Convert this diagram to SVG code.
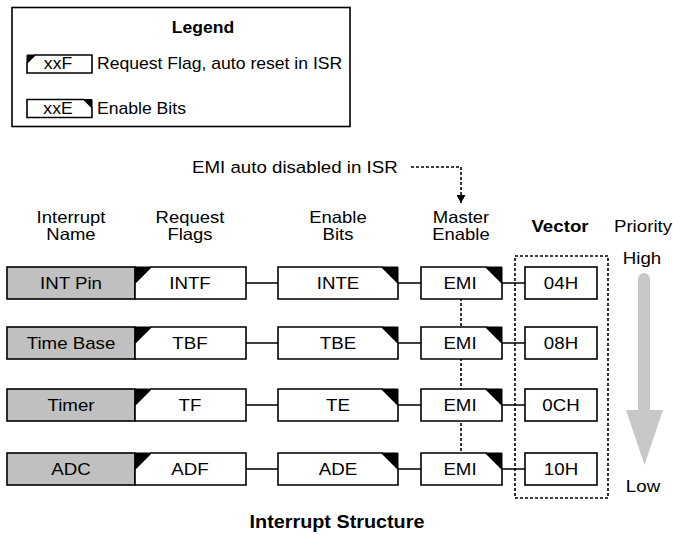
<svg xmlns="http://www.w3.org/2000/svg" width="673" height="535" viewBox="0 0 673 535">
<defs>
<style>
text{font-family:"Liberation Sans",Arial,sans-serif;font-size:17px;fill:#000;text-anchor:middle}
.b{font-weight:bold}
.s{text-anchor:start}
.lg{font-size:16px}
.hd{font-size:16.5px}
.box{fill:#fff;stroke:#000;stroke-width:1.6;stroke-linejoin:miter}
.name{fill:#c0c0c0;stroke:#000;stroke-width:1.6}
.tri{fill:#000;stroke:#000;stroke-width:1}
.line{stroke:#000;stroke-width:1.6;fill:none}
.dot{stroke:#000;stroke-width:1.6;fill:none;stroke-dasharray:3 2}
.arr{fill:#c8c8c8}
</style>
<marker id="ah" markerUnits="userSpaceOnUse" markerWidth="9" markerHeight="9" refX="8" refY="4.5" orient="auto">
<path d="M0,0 L8,4.5 L0,9 Z" fill="#000"/>
</marker>
</defs>
<rect width="673" height="535" fill="#fff"/>

<g id="legend">
<rect x="12" y="7.5" width="338" height="119" class="box"/>
<text class="b lg" transform="translate(203,33) scale(1.1,1)">Legend</text>
<polygon points="35,55 92,55 92,73 27,73 27,63" class="box"/>
<polygon points="27,55 35,55 27,63" class="tri"/>
<text class="lg" transform="translate(58,69) scale(1.1,1)">xxF</text>
<text class="lg s" transform="translate(97,69) scale(1.1,1)">Request Flag, auto reset in ISR</text>
<polygon points="27,99.5 84,99.5 92,107.5 92,117.5 27,117.5" class="box"/>
<polygon points="84,99.5 92,99.5 92,107.5" class="tri"/>
<text class="lg" transform="translate(58,113.5) scale(1.1,1)">xxE</text>
<text class="lg s" transform="translate(97,113.5) scale(1.1,1)">Enable Bits</text>
</g>

<g id="headers">
<text class="hd" transform="translate(71,222.5) scale(1.12,1)">Interrupt</text>
<text class="hd" transform="translate(71,240) scale(1.12,1)">Name</text>
<text class="hd" transform="translate(190,222.5) scale(1.12,1)">Request</text>
<text class="hd" transform="translate(190,240) scale(1.12,1)">Flags</text>
<text class="hd" transform="translate(338,222.5) scale(1.12,1)">Enable</text>
<text class="hd" transform="translate(338,240) scale(1.12,1)">Bits</text>
<text class="hd" transform="translate(461,222.5) scale(1.12,1)">Master</text>
<text class="hd" transform="translate(461,240) scale(1.12,1)">Enable</text>
<text class="b" transform="translate(560,231.5) scale(1.1,1)">Vector</text>
<text transform="translate(643,231.5) scale(1.1,1)">Priority</text>
</g>

<g id="connectors">
<path d="M411,167 H461 V203" class="dot" marker-end="url(#ah)"/>
<path d="M461,283 V469" class="dot"/>
<rect x="515" y="256" width="93" height="242" class="dot"/>
<path d="M246,283 H278 M398,283 H421 M502,283 H525" class="line"/>
<path d="M246,343 H278 M398,343 H421 M502,343 H525" class="line"/>
<path d="M246,405 H278 M398,405 H421 M502,405 H525" class="line"/>
<path d="M246,469 H278 M398,469 H421 M502,469 H525" class="line"/>
</g>

<text class="s" transform="translate(192,172.5) scale(1.1,1)">EMI auto disabled in ISR</text>

<!-- Row 1 -->
<g id="int-pin"><rect x="7" y="267" width="128" height="32" class="name"/><text transform="translate(71,289) scale(1.1,1)">INT Pin</text></g>
<g id="intf"><polygon points="151,267 246,267 246,299 135,299 135,283" class="box"/><polygon points="135,267 151,267 135,283" class="tri"/><text transform="translate(190,289) scale(1.1,1)">INTF</text></g>
<g id="inte"><polygon points="278,267 382,267 398,283 398,299 278,299" class="box"/><polygon points="382,267 398,267 398,283" class="tri"/><text transform="translate(338,289) scale(1.1,1)">INTE</text></g>
<g id="emi1"><polygon points="421,267 486,267 502,283 502,299 421,299" class="box"/><polygon points="486,267 502,267 502,283" class="tri"/><text transform="translate(460,289) scale(1.1,1)">EMI</text></g>
<g id="v04"><rect x="525" y="267" width="72" height="32" class="box"/><text transform="translate(561,289) scale(1.1,1)">04H</text></g>

<!-- Row 2 -->
<g id="time-base"><rect x="7" y="327" width="128" height="32" class="name"/><text transform="translate(71,349) scale(1.1,1)">Time Base</text></g>
<g id="tbf"><polygon points="151,327 246,327 246,359 135,359 135,343" class="box"/><polygon points="135,327 151,327 135,343" class="tri"/><text transform="translate(190,349) scale(1.1,1)">TBF</text></g>
<g id="tbe"><polygon points="278,327 382,327 398,343 398,359 278,359" class="box"/><polygon points="382,327 398,327 398,343" class="tri"/><text transform="translate(338,349) scale(1.1,1)">TBE</text></g>
<g id="emi2"><polygon points="421,327 486,327 502,343 502,359 421,359" class="box"/><polygon points="486,327 502,327 502,343" class="tri"/><text transform="translate(460,349) scale(1.1,1)">EMI</text></g>
<g id="v08"><rect x="525" y="327" width="72" height="32" class="box"/><text transform="translate(561,349) scale(1.1,1)">08H</text></g>

<!-- Row 3 -->
<g id="timer"><rect x="7" y="389" width="128" height="32" class="name"/><text transform="translate(71,411) scale(1.1,1)">Timer</text></g>
<g id="tf"><polygon points="151,389 246,389 246,421 135,421 135,405" class="box"/><polygon points="135,389 151,389 135,405" class="tri"/><text transform="translate(190,411) scale(1.1,1)">TF</text></g>
<g id="te"><polygon points="278,389 382,389 398,405 398,421 278,421" class="box"/><polygon points="382,389 398,389 398,405" class="tri"/><text transform="translate(338,411) scale(1.1,1)">TE</text></g>
<g id="emi3"><polygon points="421,389 486,389 502,405 502,421 421,421" class="box"/><polygon points="486,389 502,389 502,405" class="tri"/><text transform="translate(460,411) scale(1.1,1)">EMI</text></g>
<g id="v0c"><rect x="525" y="389" width="72" height="32" class="box"/><text transform="translate(561,411) scale(1.1,1)">0CH</text></g>

<!-- Row 4 -->
<g id="adc"><rect x="7" y="453" width="128" height="32" class="name"/><text transform="translate(71,475) scale(1.1,1)">ADC</text></g>
<g id="adf"><polygon points="151,453 246,453 246,485 135,485 135,469" class="box"/><polygon points="135,453 151,453 135,469" class="tri"/><text transform="translate(190,475) scale(1.1,1)">ADF</text></g>
<g id="ade"><polygon points="278,453 382,453 398,469 398,485 278,485" class="box"/><polygon points="382,453 398,453 398,469" class="tri"/><text transform="translate(338,475) scale(1.1,1)">ADE</text></g>
<g id="emi4"><polygon points="421,453 486,453 502,469 502,485 421,485" class="box"/><polygon points="486,453 502,453 502,469" class="tri"/><text transform="translate(460,475) scale(1.1,1)">EMI</text></g>
<g id="v10"><rect x="525" y="453" width="72" height="32" class="box"/><text transform="translate(561,475) scale(1.1,1)">10H</text></g>

<g id="priority">
<text transform="translate(642,264) scale(1.1,1)">High</text>
<path d="M638,411 V279 A6,6 0 0 1 650,279 V411 Z" class="arr"/>
<polygon points="626,410 663,410 644.5,465" class="arr"/>
<text transform="translate(643,492) scale(1.1,1)">Low</text>
</g>

<text class="b" style="font-size:18px" transform="translate(337,528) scale(1.1,1)">Interrupt Structure</text>
</svg>
